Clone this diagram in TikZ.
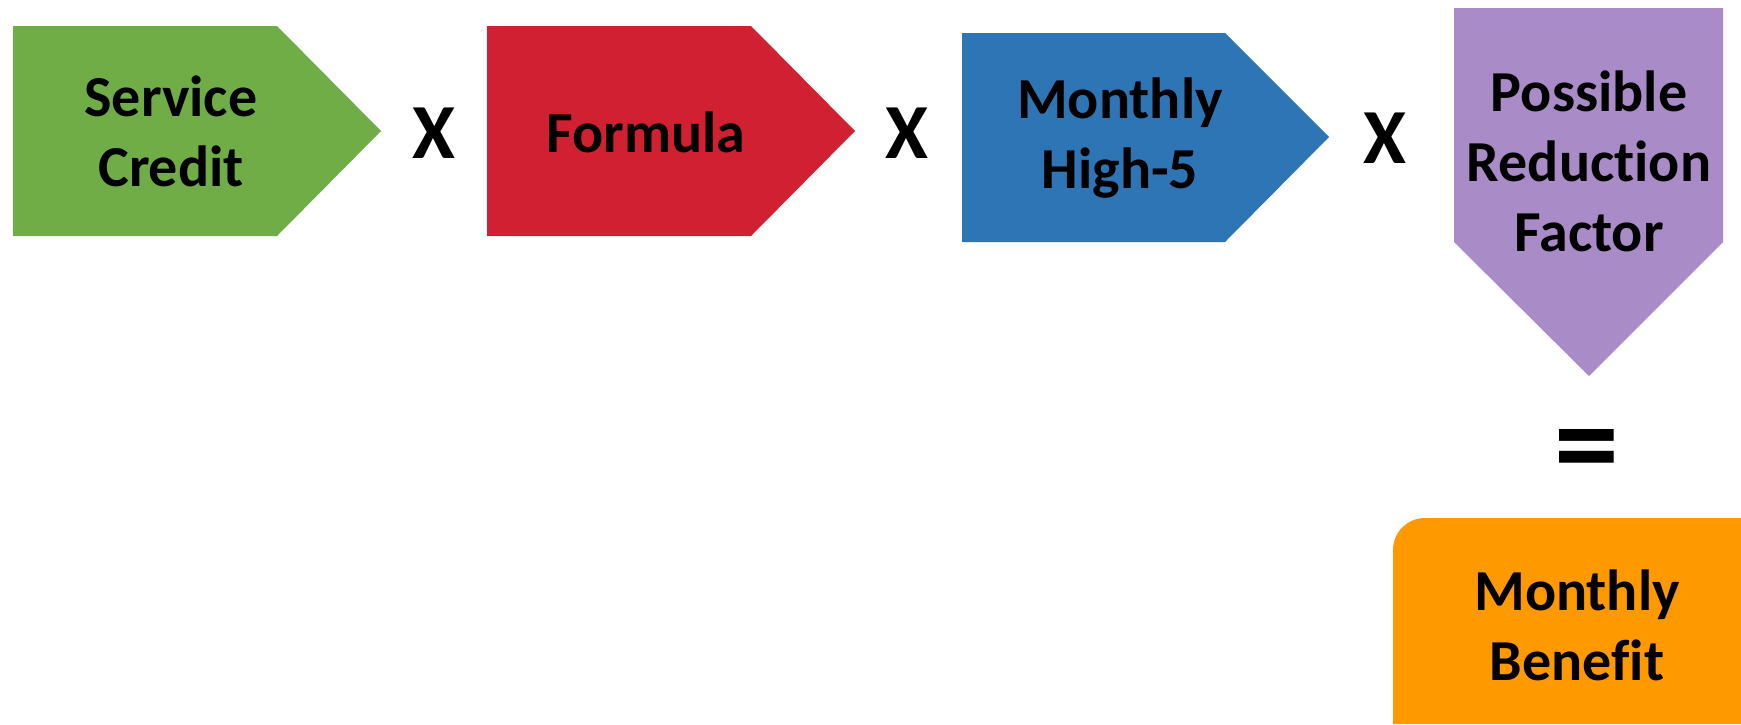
\documentclass[tikz,border=0pt]{standalone}
\usepackage{fontspec}
\setmainfont{Carlito}[Ligatures={NoCommon}]
\begin{document}
\begin{tikzpicture}[x=1pt,y=-1pt,
  lbl/.style={font=\bfseries\fontsize{58}{70}\selectfont, align=center, inner sep=0pt, text=black},
  op/.style={font=\bfseries\fontsize{78}{80}\selectfont, inner sep=0pt, text=black}]
\definecolor{cgreen}{HTML}{70AD47}
\definecolor{cred}{HTML}{D12031}
\definecolor{cblue}{HTML}{2E75B6}
\definecolor{cpurple}{HTML}{A98BC7}
\definecolor{corange}{HTML}{FF9900}
\useasboundingbox (0,0) rectangle (1741,724);
\fill[white] (0,0) rectangle (1741,724);
% shapes
\fill[cgreen] (13,26) -- (277,26) -- (381,131) -- (277,236) -- (13,236) -- cycle;
\fill[cred] (487,26) -- (751,26) -- (855,131) -- (751,236) -- (487,236) -- cycle;
\fill[cblue] (962,33) -- (1225,33) -- (1329,137) -- (1225,242) -- (962,242) -- cycle;
\fill[cpurple] (1454,8) -- (1723,8) -- (1723,242) -- (1589,376) -- (1454,242) -- cycle;
\fill[corange] (1393,724) -- (1393,550) arc[start angle=180,end angle=270,radius=32] -- (1741,518) -- (1741,724) -- cycle;
% texts
\node[lbl] (sc) at (171,131) {Service\\Credit};
\node[lbl] (fo) at (646,132) {Formula};
\node[lbl] (mh) at (1120,138) {Monthly\\High-5};
\node[lbl] (pr) at (1589,161) {Possible\\Reduction\\Factor};
\node[lbl] (mb) at (1577,625) {Monthly\\Benefit};
\node[op] (x1) at (434,133) {X};
\node[op] (x2) at (907,133) {X};
\node[op] (x3) at (1385,138) {X};
\node[op, font=\bfseries\fontsize{130}{130}\selectfont] (eq) at (1587,458) {=};
\end{tikzpicture}
\end{document}
